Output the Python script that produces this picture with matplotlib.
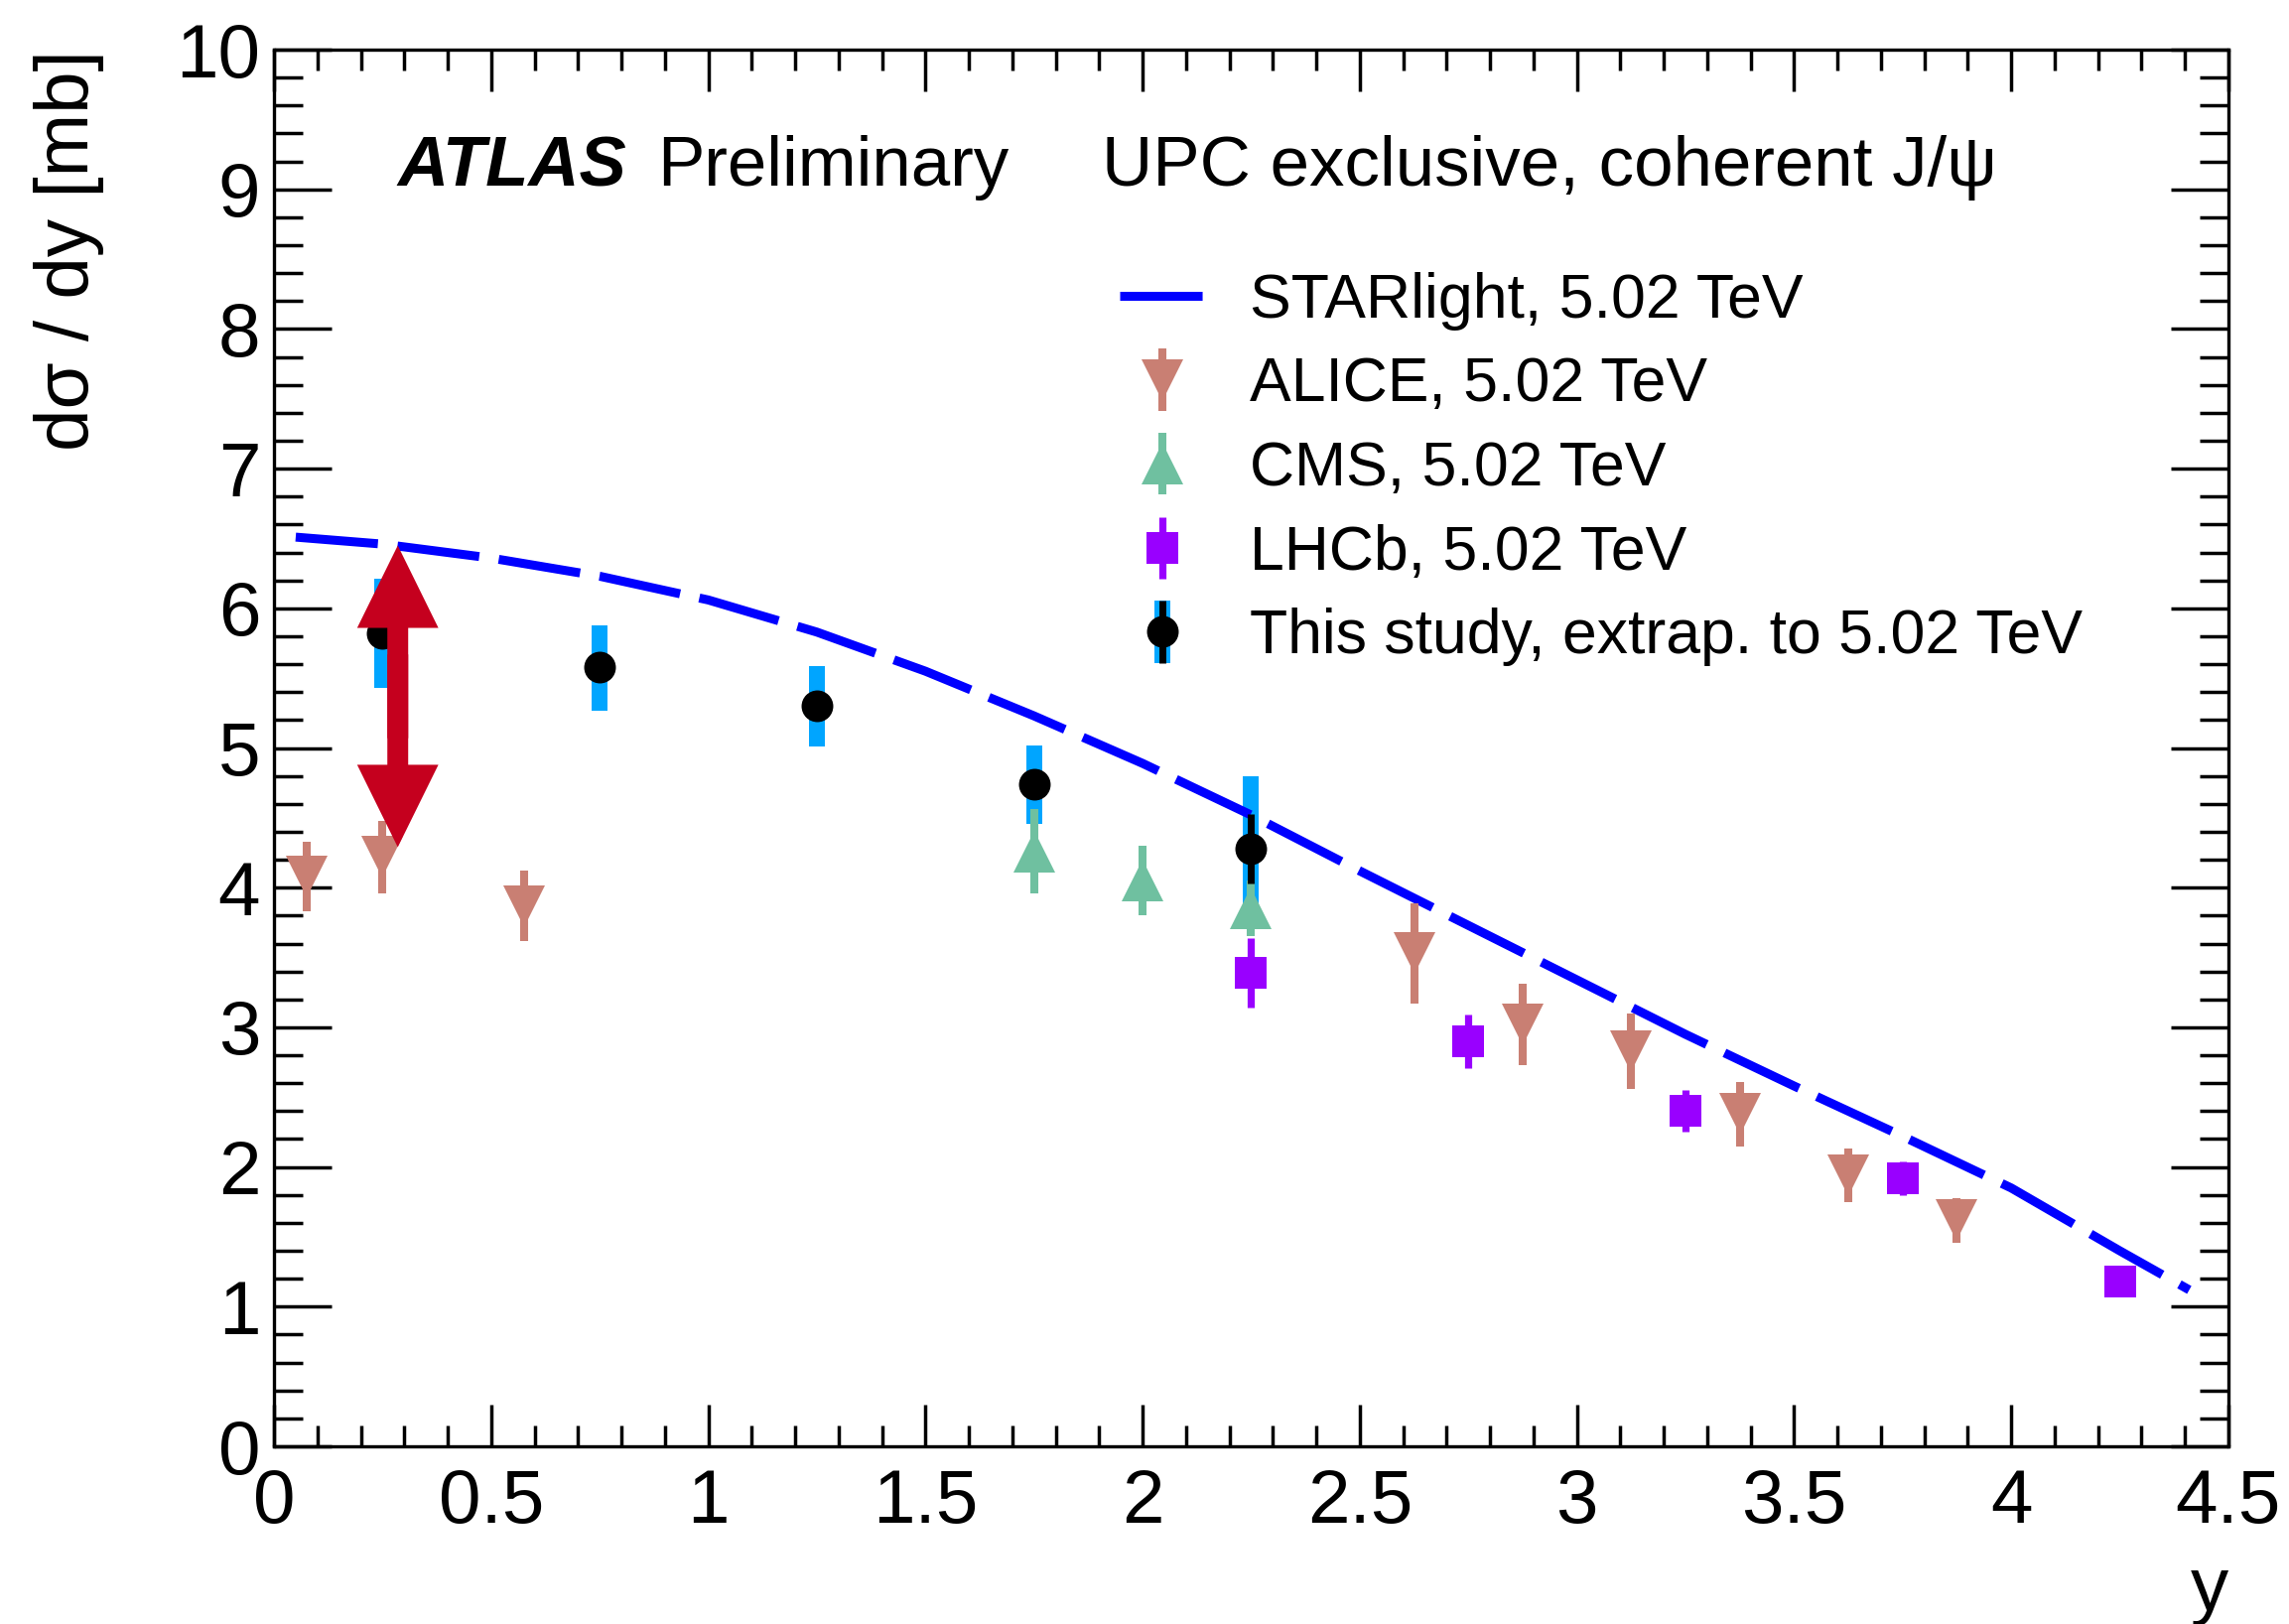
import matplotlib
matplotlib.use('Agg')
import matplotlib.pyplot as plt
from matplotlib.patches import FancyArrow
from matplotlib.legend_handler import HandlerTuple
from matplotlib.ticker import MultipleLocator, FuncFormatter

plt.rcParams['font.family'] = ['Liberation Sans', 'DejaVu Sans']

# ---------------- data ----------------
star_x = [0.05, 0.25, 0.5, 0.75, 1.0, 1.25, 1.5, 1.75, 2.0, 2.25, 2.5, 2.75,
          3.0, 3.25, 3.5, 3.75, 4.0, 4.25, 4.41]
star_y = [6.51, 6.46, 6.36, 6.23, 6.06, 5.83, 5.55, 5.23, 4.89, 4.52, 4.12, 3.73,
          3.34, 2.95, 2.58, 2.22, 1.85, 1.40, 1.12]

alice_x = [0.075, 0.25, 0.575, 2.625, 2.875, 3.125, 3.375, 3.625, 3.875]
alice_y = [4.08, 4.22, 3.87, 3.53, 3.02, 2.83, 2.38, 1.94, 1.62]
alice_err = [0.25, 0.26, 0.25, 0.36, 0.29, 0.27, 0.23, 0.19, 0.16]

cms_x = [1.75, 2.0, 2.25]
cms_y = [4.26, 4.05, 3.85]
cms_err = [0.30, 0.25, 0.20]

lhcb_x = [2.25, 2.75, 3.25, 3.75, 4.25]
lhcb_y = [3.39, 2.90, 2.40, 1.92, 1.18]
lhcb_err = [0.25, 0.19, 0.15, 0.12, 0.08]

atlas_x = [0.25, 0.75, 1.25, 1.75, 2.25]
atlas_y = [5.82, 5.58, 5.30, 4.74, 4.28]
atlas_stat = [0.08, 0.08, 0.10, 0.10, 0.25]
atlas_syst_lo = [0.39, 0.31, 0.29, 0.28, 0.52]
atlas_syst_hi = [0.39, 0.30, 0.29, 0.28, 0.52]

arrow_x = 0.285
arrow_lo = 4.29
arrow_hi = 6.45

labels = ['STARlight, 5.02 TeV', 'ALICE, 5.02 TeV', 'CMS, 5.02 TeV',
          'LHCb, 5.02 TeV', 'This study, extrap. to 5.02 TeV']

# ---------------- colours ----------------
c_star = '#0000ff'
c_alice = '#c97f73'
c_cms = '#6fc0a0'
c_lhcb = '#9900ff'
c_syst = '#00a5ff'
c_arrow = '#c5001e'

fig = plt.figure(figsize=(23.06, 16.36), dpi=100)
ax = fig.add_axes([0.1197, 0.1094, 0.8538, 0.8600])

star_line, = ax.plot(star_x, star_y, color=c_star, lw=6.5, dashes=(9.2, 2.2),
                     zorder=3)

alice = ax.errorbar(alice_x, alice_y, yerr=alice_err, fmt='v', color=c_alice,
                    ms=30, mew=0, elinewidth=5.8, capsize=0, zorder=4)
cms = ax.errorbar(cms_x, cms_y, yerr=cms_err, fmt='^', color=c_cms,
                  ms=30, mew=0, elinewidth=5.8, capsize=0, zorder=4)
lhcb = ax.errorbar(lhcb_x, lhcb_y, yerr=lhcb_err, fmt='s', color=c_lhcb,
                   ms=22.5, mew=0, elinewidth=5.2, capsize=0, zorder=4)
syst = ax.errorbar(atlas_x, atlas_y, yerr=[atlas_syst_lo, atlas_syst_hi], fmt='none',
                   ecolor=c_syst, elinewidth=11.5, capsize=0, zorder=2)
stat = ax.errorbar(atlas_x, atlas_y, yerr=atlas_stat, fmt='o', color='black',
                   ms=23, mew=0, elinewidth=5, capsize=0, zorder=5)
for cont in (alice, cms, lhcb, syst, stat):
    for lc in cont[2]:
        lc.set_capstyle('butt')

# double arrow (two overlapping single-headed arrows)
arrow_mid = 0.5 * (arrow_lo + arrow_hi)
overlap = 0.3
ax.add_patch(FancyArrow(arrow_x, arrow_mid - overlap, 0, arrow_hi - arrow_mid + overlap,
                        width=0.048, head_width=0.187, head_length=0.59,
                        length_includes_head=True, color=c_arrow, lw=0, zorder=6))
ax.add_patch(FancyArrow(arrow_x, arrow_mid + overlap, 0, arrow_lo - arrow_mid - overlap,
                        width=0.048, head_width=0.187, head_length=0.59,
                        length_includes_head=True, color=c_arrow, lw=0, zorder=6))

ax.set_xlim(0, 4.5)
ax.set_ylim(0, 10)
ax.xaxis.set_major_locator(MultipleLocator(0.5))
ax.xaxis.set_minor_locator(MultipleLocator(0.1))
ax.yaxis.set_major_locator(MultipleLocator(1))
ax.yaxis.set_minor_locator(MultipleLocator(0.2))
fmt = FuncFormatter(lambda v, p: '%g' % v)
ax.xaxis.set_major_formatter(fmt)
ax.yaxis.set_major_formatter(fmt)
ax.tick_params(which='both', direction='in', top=True, right=True, width=2.5,
               labelsize=55)
ax.tick_params(axis='y', which='major', length=42, pad=10)
ax.tick_params(axis='y', which='minor', length=21)
ax.tick_params(axis='x', which='major', length=30, pad=16)
ax.tick_params(axis='x', which='minor', length=15)
for s in ax.spines.values():
    s.set_linewidth(2.4)

ax.set_xlabel('y', fontsize=55, loc='right')
ax.xaxis.set_label_coords(1.0, -0.078)
ax.set_ylabel('dσ / dy [mb]', fontsize=55, loc='top')
ax.yaxis.set_label_coords(-0.087, 1.0)

ax.text(0.063, 0.9026, 'ATLAS', transform=ax.transAxes, fontsize=51,
        fontweight='bold', fontstyle='italic', va='baseline')
ax.text(0.196, 0.9026, 'Preliminary', transform=ax.transAxes, fontsize=51,
        va='baseline')
ax.text(0.4236, 0.9026, 'UPC exclusive, coherent J/ψ', transform=ax.transAxes,
        fontsize=51, va='baseline')

leg = ax.legend([star_line, alice, cms, lhcb, (syst, stat)], labels,
                handler_map={tuple: HandlerTuple(ndivide=1)},
                loc='upper left', bbox_to_anchor=(0.4327, 0.841),
                frameon=False, fontsize=45, borderpad=0, borderaxespad=0,
                handlelength=1.38, handletextpad=0.72, labelspacing=0.41)

fig.savefig('out.png', dpi=100)
